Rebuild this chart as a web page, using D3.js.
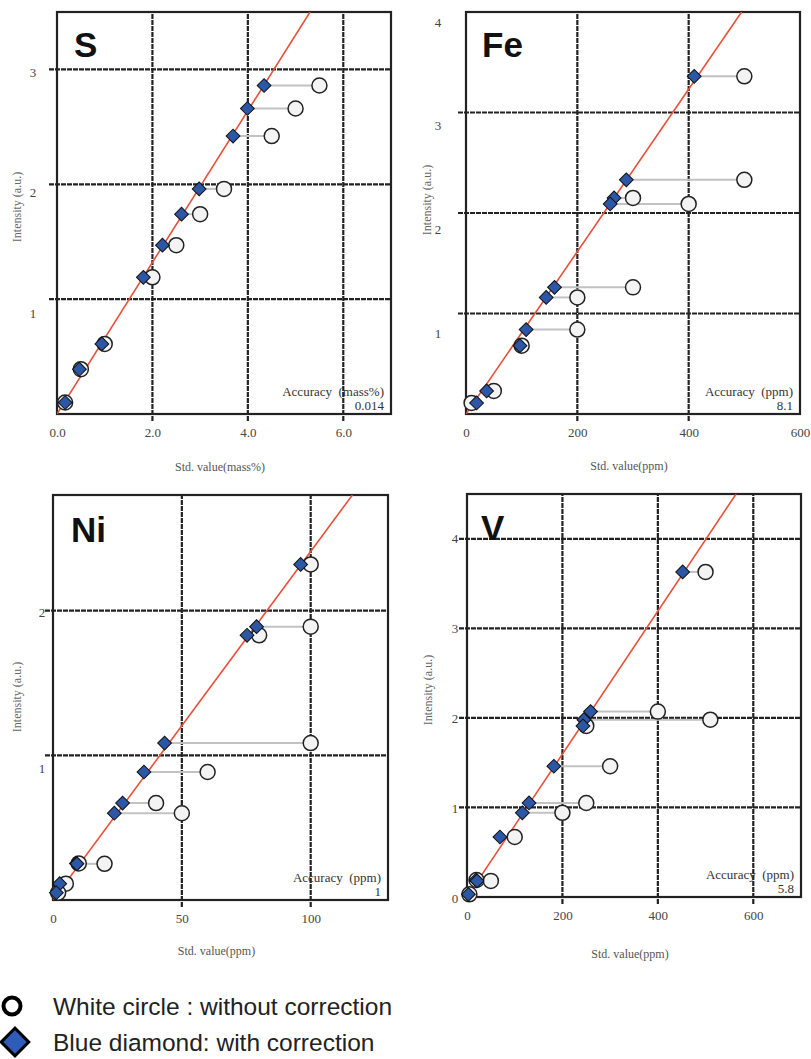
<!DOCTYPE html>
<html>
<head>
<meta charset="utf-8">
<script src="https://cdn.jsdelivr.net/npm/d3@7"></script>
<style>
  body { margin: 0; background: #fff; }
  svg { display: block; }
</style>
</head>
<body>
<div id="chart"></div>
<script>

// ---- data ----
// intensity (a.u.), std value without correction (circle), with correction (diamond)
let sIntensity = [2.86, 2.66, 2.42, 1.96, 1.74, 1.47, 1.19, 0.61, 0.39, 0.10];
let sWithout   = [5.5, 5.0, 4.5, 3.5, 3.0, 2.5, 2.0, 1.0, 0.5, 0.17];
let sWith      = [4.34, 3.99, 3.69, 2.98, 2.61, 2.21, 1.81, 0.94, 0.47, 0.17];

let feIntensity = [3.36, 2.33, 2.15, 2.09, 1.26, 1.16, 0.84, 0.68, 0.23, 0.11];
let feWithout   = [500, 500, 300, 400, 300, 200, 200, 100, 50, 10];
let feWith      = [410, 288, 266, 259, 159, 144, 108, 97, 37, 19];

let niIntensity = [2.32, 1.89, 1.83, 1.085, 0.885, 0.67, 0.60, 0.253, 0.25, 0.113, 0.05];
let niWithout   = [100, 100, 80, 100, 60, 40, 50, 10, 20, 5, 2];
let niWith      = [96.1, 79.0, 75.3, 43.3, 35.3, 27.0, 23.8, 9.1, 9.3, 2.6, 1.3];

let vIntensity = [3.63, 2.07, 1.98, 1.91, 1.46, 1.05, 0.94, 0.67, 0.19, 0.18, 0.03];
let vWithout   = [500, 400, 510, 250, 300, 250, 200, 100, 20, 50, 5];
let vWith      = [452, 259, 245, 243, 182, 130, 116, 69, 19, 21, 3];

let elements   = ["S", "Fe", "Ni", "V"];
let fitSlopes  = [0.66, 0.00808, 0.0241, 0.00798];
let accUnits   = ["mass%", "ppm", "ppm", "ppm"];
let accValues  = ["0.014", "8.1", "1", "5.8"];
let xMaxes     = [7, 600, 130, 700];
let yMaxes     = [3.5, 4, 2.8, 4.5];
let xTickVals  = [[0, 2, 4, 6], [0, 200, 400, 600], [0, 50, 100], [0, 200, 400, 600]];
let yTickVals  = [[1, 2, 3], [1, 2, 3, 4], [1, 2], [0, 1, 2, 3, 4]];
let xTitles    = ["Std. value(mass%)", "Std. value(ppm)", "Std. value(ppm)", "Std. value(ppm)"];
let yTitle     = "Intensity (a.u.)";
let legendLabels = ["White circle : without correction", "Blue diamond: with correction"];

let series = [
    [sIntensity, sWithout, sWith],
    [feIntensity, feWithout, feWith],
    [niIntensity, niWithout, niWith],
    [vIntensity, vWithout, vWith]
];

// ---- layout of the panels (pixels) ----
let boxes = [
    {left: 57, top: 12, right: 391, bottom: 414, labX: 33, labShift: [20, 0], titleX: 17, titleY: 207, xTitleY: 467, nameDx: 17, nameDy: 45},
    {left: 466, top: 12, right: 800, bottom: 414, labX: 438, labShift: [23, 10], titleX: 427, titleY: 200, xTitleY: 466, nameDx: 16, nameDy: 45},
    {left: 53, top: 495, right: 388, bottom: 900, labX: 42, labShift: [25, -7], titleX: 17, titleY: 697, xTitleY: 951, nameDx: 18, nameDy: 47},
    {left: 467, top: 494, right: 801, bottom: 897, labX: 455, labShift: [1, 0], titleX: 428, titleY: 690, xTitleY: 954, nameDx: 14, nameDy: 46}
];

let serif = "'Liberation Serif', 'Times New Roman', serif";
let sans = "'Liberation Sans', Arial, sans-serif";

let svg = d3.select("#chart").append("svg")
    .attr("width", 811)
    .attr("height", 1059);

elements.forEach(function(el, i) {
    let b = boxes[i];
    let x = d3.scaleLinear().domain([0, xMaxes[i]]).range([b.left, b.right]);
    let y = d3.scaleLinear().domain([0, yMaxes[i]]).range([b.bottom, b.top]);
    // tick labels in the source sit a little off the grid lines
    let yLab = d3.scaleLinear().domain([0, yMaxes[i]]).range([b.bottom + b.labShift[0], b.top + b.labShift[1]]);

    let g = svg.append("g").attr("class", "panel");

    g.append("clipPath").attr("id", "clip" + i)
        .append("rect")
        .attr("x", b.left).attr("y", b.top)
        .attr("width", b.right - b.left).attr("height", b.bottom - b.top);

    // grid
    let gx = xTickVals[i].filter(v => v > 0 && v < xMaxes[i]);
    let gy = yTickVals[i].filter(v => v > 0 && v < yMaxes[i]);

    g.selectAll(".gx").data(gx).enter().append("line")
        .attr("x1", d => x(d)).attr("x2", d => x(d))
        .attr("y1", b.bottom + 7).attr("y2", b.top)
        .attr("stroke", "#222").attr("stroke-width", 2.2)
        .attr("stroke-dasharray", "5,1");

    g.selectAll(".gy").data(gy).enter().append("line")
        .attr("x1", b.left - 8).attr("x2", b.right)
        .attr("y1", d => y(d)).attr("y2", d => y(d))
        .attr("stroke", "#222").attr("stroke-width", 2.2)
        .attr("stroke-dasharray", "5,1");

    // frame
    g.append("rect")
        .attr("x", b.left).attr("y", b.top)
        .attr("width", b.right - b.left).attr("height", b.bottom - b.top)
        .attr("fill", "none").attr("stroke", "#222").attr("stroke-width", 2.2);

    // x tick labels
    let fmt = i == 0 ? d3.format(".1f") : d3.format("d");
    let xAxis = d3.axisBottom(x).tickValues(xTickVals[i]).tickFormat(fmt).tickSize(0).tickPadding(14);
    let xa = g.append("g").attr("transform", "translate(0," + b.bottom + ")").call(xAxis);
    xa.select(".domain").remove();
    xa.selectAll("text").attr("font-family", serif).attr("font-size", 13).attr("fill", "#444");

    // y tick labels
    g.selectAll(".ylab").data(yTickVals[i]).enter().append("text")
        .attr("x", b.labX).attr("y", d => yLab(d))
        .attr("dy", "0.35em")
        .attr("text-anchor", "middle")
        .attr("font-family", serif).attr("font-size", 13).attr("fill", "#444")
        .text(d => d);

    // fit line
    let xEnd = yMaxes[i] / fitSlopes[i];
    g.append("line")
        .attr("clip-path", "url(#clip" + i + ")")
        .attr("x1", x(0)).attr("y1", y(0))
        .attr("x2", x(xEnd)).attr("y2", y(fitSlopes[i] * xEnd))
        .attr("stroke", "#e8503a").attr("stroke-width", 1.6);

    let pts = series[i][0].map(function(v, k) {
        return {iy: v, raw: series[i][1][k], corr: series[i][2][k]};
    });

    // connectors
    g.selectAll(".conn").data(pts).enter().append("line")
        .attr("x1", d => x(d.corr)).attr("x2", d => x(d.raw))
        .attr("y1", d => y(d.iy)).attr("y2", d => y(d.iy))
        .attr("stroke", "#c2c2c2").attr("stroke-width", 2);

    // circles: without correction
    g.selectAll(".raw").data(pts).enter().append("circle")
        .attr("cx", d => x(d.raw)).attr("cy", d => y(d.iy))
        .attr("r", 7.5)
        .attr("fill", "#f3f3f3").attr("stroke", "#222").attr("stroke-width", 1.5);

    // diamonds: with correction
    let diamond = d3.symbol().type(d3.symbolSquare).size(95);
    g.selectAll(".corr").data(pts).enter().append("path")
        .attr("d", diamond)
        .attr("transform", d => "translate(" + x(d.corr) + "," + y(d.iy) + ") rotate(45)")
        .attr("fill", "#2c56a6").attr("stroke", "#111").attr("stroke-width", 1);

    // element name
    g.append("text")
        .attr("x", b.left + b.nameDx).attr("y", b.top + b.nameDy)
        .attr("font-family", sans).attr("font-weight", "bold").attr("font-size", 35)
        .attr("fill", "#111")
        .text(el);

    // accuracy note
    g.append("text")
        .attr("x", b.right - 7).attr("y", b.bottom - 18)
        .attr("text-anchor", "end")
        .attr("font-family", serif).attr("font-size", 13).attr("fill", "#333")
        .attr("xml:space", "preserve")
        .text("Accuracy  (" + accUnits[i] + ")");
    g.append("text")
        .attr("x", b.right - 7).attr("y", b.bottom - 4)
        .attr("text-anchor", "end")
        .attr("font-family", serif).attr("font-size", 13).attr("fill", "#333")
        .text(accValues[i]);

    // axis titles
    g.append("text")
        .attr("transform", "translate(" + b.titleX + "," + b.titleY + ") rotate(-90)")
        .attr("text-anchor", "middle").attr("dy", "0.35em")
        .attr("font-family", serif).attr("font-size", 12).attr("fill", "#666")
        .text(yTitle);
    g.append("text")
        .attr("x", (b.left + b.right) / 2 - 4).attr("y", b.xTitleY)
        .attr("text-anchor", "middle").attr("dy", "0.35em")
        .attr("font-family", serif).attr("font-size", 12).attr("fill", "#555")
        .text(xTitles[i]);
});

// ---- legend ----
let legend = svg.append("g").attr("class", "legend");
legend.append("circle")
    .attr("cx", 12).attr("cy", 1006).attr("r", 8.5)
    .attr("fill", "#fff").attr("stroke", "#000").attr("stroke-width", 4);
legend.append("path")
    .attr("d", d3.symbol().type(d3.symbolSquare).size(380))
    .attr("transform", "translate(15,1042) rotate(45)")
    .attr("fill", "#2e5cb8").attr("stroke", "#000").attr("stroke-width", 3);
legend.selectAll(".lt").data(legendLabels).enter().append("text")
    .attr("x", 53).attr("y", (d, k) => 1015 + k * 36)
    .attr("font-family", sans).attr("font-size", 24.5).attr("fill", "#222")
    .text(d => d);

</script>
</body>
</html>
